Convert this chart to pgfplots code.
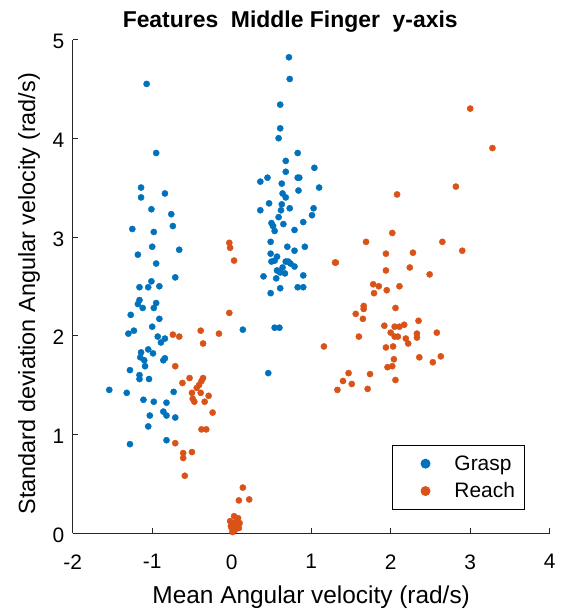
\documentclass[border=0pt]{standalone}
\usepackage{fontspec}
\setmainfont{Liberation Sans}
\usepackage{pgfplots}
\pgfplotsset{compat=1.18}
\definecolor{mblue}{rgb}{0,0.447,0.741}
\definecolor{morange}{rgb}{0.85,0.325,0.098}
\begin{document}
\begin{tikzpicture}
\begin{axis}[
  name=ax,
  scale only axis,
  width=477bp, height=493.5bp,
  xmin=-2, xmax=4, ymin=0, ymax=5,
  xtick={-2,-1,0,1,2,3,4}, ytick={0,1,2,3,4,5},
  axis x line*=bottom, axis y line*=left,
  axis line style={line width=1bp, black!85},
  tick align=inside, major tick length=5bp,
  tick style={line width=0.8bp, black!85},
  /pgf/number format/assume math mode=true,
  tick label style={font=\fontsize{21}{25}\selectfont},
  xticklabel style={yshift=-18bp},
  yticklabel style={xshift=-5bp, yshift=-2bp},
  title={\fontsize{23}{27}\selectfont\bfseries Features\ \ Middle Finger\ \ y-axis},
  title style={at={(axis description cs:0.456,1)}, anchor=base, yshift=6bp},
  xlabel={Mean Angular velocity (rad/s)},
  xlabel style={font=\fontsize{24.5}{29}\selectfont, at={(axis description cs:0.5,0)}, anchor=base, yshift=-70bp},
  ylabel={Standard deviation Angular velocity (rad/s)},
  ylabel style={font=\fontsize{23.5}{28}\selectfont, at={(axis description cs:-0.079,0.485)}, anchor=base},
  legend style={at={(axis description cs:0.948,0.047)}, anchor=south east,
    draw=black, line width=0.9bp, font=\fontsize{21}{25}\selectfont,
    inner xsep=7.5bp, inner ysep=8bp, row sep=7bp},
  legend cell align=left,
  legend image code/.code={\draw[#1, mark size=4.5bp] plot coordinates {(25.5bp,0)}; \path (0,0) (52bp,0);},
  clip=false,
]
\addplot[only marks, mark=*, mark size=3.1bp, color=mblue] table {
x y
-1.07 4.55
-0.95 3.85
-1.14 3.50
-1.14 3.40
-0.84 3.44
-1.01 3.28
-0.76 3.23
-0.74 3.11
-1.25 3.08
-0.98 3.05
-1.00 2.90
-0.66 2.87
-1.18 2.82
-0.95 2.73
-0.71 2.59
-1.01 2.55
-1.16 2.49
-1.05 2.49
-0.91 2.50
-1.16 2.36
-1.18 2.32
-0.95 2.33
-1.12 2.28
-0.98 2.28
-1.27 2.21
-0.91 2.17
-1.00 2.09
-1.30 2.02
-1.23 2.05
-0.93 1.99
-0.84 1.97
-0.89 1.93
0.14 2.06
-1.05 1.86
-1.14 1.83
-0.99 1.82
-1.15 1.78
-1.10 1.75
-0.84 1.77
-0.86 1.75
-1.09 1.69
-1.28 1.65
-1.16 1.60
-1.16 1.56
-1.04 1.56
-1.54 1.45
-1.32 1.42
-0.73 1.43
-1.11 1.35
-0.98 1.33
-0.82 1.32
-0.86 1.23
-1.03 1.19
-0.82 1.19
-0.71 1.17
-1.05 1.08
-0.82 0.94
-1.28 0.90
0.72 4.82
0.73 4.60
0.61 4.34
0.61 4.10
0.59 4.00
0.83 3.85
0.68 3.77
1.04 3.70
0.68 3.66
0.45 3.60
0.36 3.56
0.83 3.60
0.85 3.60
0.63 3.54
1.10 3.50
0.84 3.47
0.64 3.44
0.68 3.40
0.47 3.34
0.63 3.33
0.73 3.29
0.36 3.27
1.03 3.29
0.62 3.27
1.01 3.22
0.59 3.20
0.90 3.15
0.50 3.14
0.52 3.11
0.54 3.06
0.65 3.13
0.79 3.07
0.49 2.95
0.70 2.90
0.92 2.90
0.79 2.86
0.49 2.83
0.57 2.80
0.54 2.76
0.50 2.75
0.68 2.75
0.71 2.75
0.74 2.73
0.64 2.69
0.79 2.70
0.57 2.66
0.61 2.64
0.67 2.63
0.90 2.61
0.40 2.60
0.56 2.58
0.61 2.48
0.83 2.49
0.90 2.49
0.49 2.43
0.54 2.08
0.60 2.08
0.46 1.62
};
\addlegendentry{Grasp}
\addplot[only marks, mark=*, mark size=3.1bp, color=morange] table {
x y
-0.03 2.94
-0.02 2.89
0.03 2.76
-0.03 2.23
-0.74 2.01
-0.66 1.99
-0.39 2.05
-0.16 2.02
-0.36 1.92
-0.71 1.69
-0.53 1.57
-0.62 1.52
-0.36 1.57
-0.38 1.54
-0.41 1.50
-0.44 1.47
-0.50 1.42
-0.39 1.42
-0.29 1.39
-0.49 1.36
-0.47 1.33
-0.34 1.33
-0.24 1.22
-0.38 1.05
-0.32 1.05
-0.71 0.91
-0.61 0.81
-0.61 0.76
-0.50 0.82
-0.59 0.58
0.14 0.46
0.09 0.33
0.22 0.34
0.00 0.05
0.02 0.10
0.05 0.08
-0.02 0.12
0.08 0.15
0.04 0.03
0.10 0.10
0.01 0.01
0.06 0.12
-0.01 0.07
0.03 0.17
0.09 0.05
1.30 2.74
1.16 1.89
3.00 4.30
3.28 3.90
2.82 3.51
2.08 3.43
2.02 3.04
1.69 2.95
2.65 2.95
2.90 2.86
1.94 2.83
2.28 2.84
1.31 2.74
1.94 2.66
2.24 2.69
2.49 2.62
1.78 2.52
1.85 2.50
2.11 2.50
1.79 2.43
1.95 2.46
1.66 2.30
1.66 2.27
2.06 2.28
1.56 2.22
1.65 2.17
2.35 2.15
1.92 2.10
2.05 2.09
2.11 2.09
2.17 2.11
2.00 2.03
2.05 1.99
2.09 1.99
2.33 2.02
2.33 1.98
2.58 2.03
1.60 1.99
2.19 1.97
2.22 1.92
1.94 1.88
2.03 1.89
2.04 1.76
2.36 1.78
2.63 1.79
2.53 1.73
1.96 1.68
2.02 1.69
1.74 1.61
1.47 1.62
2.06 1.55
1.40 1.54
1.51 1.51
1.71 1.46
1.33 1.45
};
\addlegendentry{Reach}
\end{axis}
\pgfresetboundingbox
\path ([xshift=-72.7bp,yshift=-78bp]ax.south west) rectangle ([xshift=13bp,yshift=39.5bp]ax.north east);
\end{tikzpicture}
\end{document}
